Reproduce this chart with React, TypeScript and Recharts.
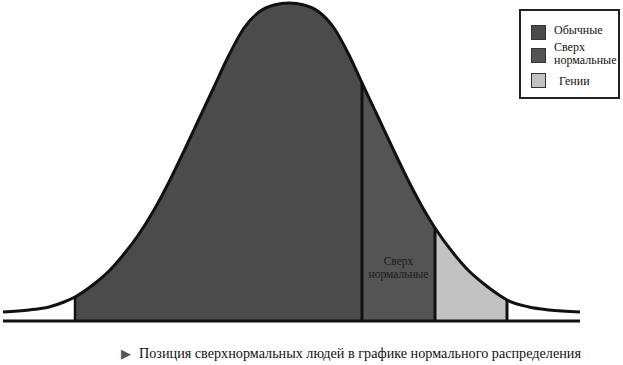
import React from "react";
import {
  ComposedChart,
  Area,
  Line,
  XAxis,
  YAxis,
  ReferenceLine,
} from "recharts";

// horizontal position along the curve and curve height above the base line
const positions = [3, 29, 49, 64, 75, 94, 109, 124, 139, 154, 169, 184, 199, 214, 229, 244, 259, 274, 289, 304, 319, 334, 349, 362, 379, 394, 409, 424, 435, 454, 469, 484, 499, 507, 529, 549, 580];
const heights = [9, 11, 14, 19, 24, 37, 50, 67, 87, 111, 139, 170, 202, 234, 266, 293, 309, 316, 318, 316, 309, 293, 266, 238, 202, 170, 139, 111, 93, 67, 50, 37, 26, 21, 14, 11, 9];

// zone borders: ordinary / super-normal / genius
const zoneBounds = [75, 362, 435, 507];
const zoneNames = ["Обычные", "Сверх нормальные", "Гении"];
const zoneColors = ["#4b4b4b", "#545454", "#c2c2c2"];

const caption = "Позиция сверхнормальных людей в графике нормального распределения";

const serif = '"Liberation Serif", "Times New Roman", "DejaVu Serif", serif';

const heightAt = (x: number) => heights[positions.indexOf(x)];

const data = positions.map((x, i) => {
  const row: Record<string, number | null> = { x, curve: heights[i] };
  zoneNames.forEach((_, z) => {
    const inside = x >= zoneBounds[z] && x <= zoneBounds[z + 1];
    row[`zone${z}`] = inside ? heights[i] : null;
  });
  return row;
});

const Swatch = ({ color }: { color: string }) => (
  <div
    style={{
      position: "absolute",
      left: 10,
      width: 13,
      height: 13,
      background: color,
      border: "1px solid #333",
    }}
  />
);

export default function App() {
  return (
    <div style={{ position: "absolute", left: 0, top: 0, width: 623, height: 365, background: "#fff", fontFamily: serif }}>
      <ComposedChart
        width={623}
        height={365}
        data={data}
        margin={{ top: 3, right: 43, bottom: 44, left: 3 }}
      >
        <XAxis dataKey="x" type="number" domain={[3, 580]} hide />
        <YAxis type="number" domain={[0, 318]} hide />
        {zoneNames.map((name, z) => (
          <Area
            key={name}
            dataKey={`zone${z}`}
            type="monotone"
            stroke="none"
            fill={zoneColors[z]}
            fillOpacity={1}
            baseValue={0}
            connectNulls={false}
            isAnimationActive={false}
          />
        ))}
        {zoneBounds.map((b, i) => (
          <ReferenceLine
            key={b}
            segment={[{ x: b, y: 0 }, { x: b, y: heightAt(b) }]}
            stroke="#111"
            strokeWidth={i === 0 ? 2.5 : 3}
          />
        ))}
        <ReferenceLine y={0} stroke="#111" strokeWidth={3} />
        <Line
          dataKey="curve"
          type="monotone"
          stroke="#111"
          strokeWidth={3}
          dot={false}
          isAnimationActive={false}
        />
      </ComposedChart>

      {/* label inside the super-normal zone */}
      <div
        style={{
          position: "absolute",
          left: 362,
          width: 73,
          top: 255,
          textAlign: "center",
          fontSize: 11.5,
          lineHeight: "13px",
          color: "#1a1a1a",
        }}
      >
        Сверх
        <br />
        нормальные
      </div>

      {/* legend */}
      <div
        style={{
          position: "absolute",
          left: 519,
          top: 9,
          width: 97,
          height: 86,
          border: "2px solid #222",
          fontSize: 12,
          color: "#111",
        }}
      >
        <div style={{ position: "absolute", top: 14 }}>
          <Swatch color={zoneColors[0]} />
        </div>
        <div style={{ position: "absolute", left: 33, top: 13, lineHeight: "12px" }}>Обычные</div>
        <div style={{ position: "absolute", top: 37 }}>
          <Swatch color={zoneColors[1]} />
        </div>
        <div style={{ position: "absolute", left: 33, top: 30, lineHeight: "13px" }}>
          Сверх
          <br />
          нормальные
        </div>
        <div style={{ position: "absolute", top: 62 }}>
          <Swatch color={zoneColors[2]} />
        </div>
        <div style={{ position: "absolute", left: 38, top: 64, lineHeight: "12px" }}>Гении</div>
      </div>

      {/* caption */}
      <div
        style={{
          position: "absolute",
          left: 121,
          top: 346,
          fontSize: 14.2,
          lineHeight: "15px",
          color: "#111",
          whiteSpace: "nowrap",
        }}
      >
        <span style={{ color: "#555", fontSize: 13, marginRight: 8 }}>▶</span>
        {caption}
      </div>
    </div>
  );
}
